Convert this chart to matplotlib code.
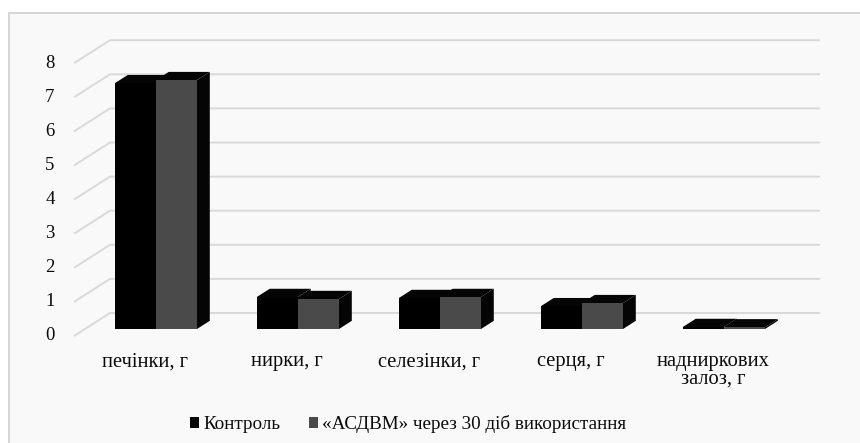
import matplotlib
matplotlib.use("Agg")
import matplotlib.pyplot as plt
from matplotlib.patches import Polygon, Rectangle, Patch

# ── дані ──────────────────────────────────────────────────────────────
categories = ["печінки, г", "нирки, г", "селезінки, г", "серця, г", "надниркових\nзалоз, г"]
control = [7.21, 0.94, 0.91, 0.67, 0.06]
asdvm = [7.30, 0.88, 0.94, 0.76, 0.05]
series_names = ["Контроль", "«АСДВМ» через 30 діб використання"]
y_ticks = [0, 1, 2, 3, 4, 5, 6, 7, 8]

plt.rcParams["font.family"] = ["Liberation Serif", "DejaVu Serif"]

# ── геометрія псевдо-3D (одиниці: категорія по x, значення по y) ──────
W, H, DPI = 860, 443, 100
PX_X = 142.0      # пікселів на категорію
PX_Y = 34.1       # пікселів на одиницю значення
X0, Y0 = 74.0, 336.0   # передній нуль осі (пікселі від лівого верхнього кута)
DX = 36.0 / PX_X  # зсув у глибину по x на всю глибину
DY = 23.0 / PX_Y  # зсув у глибину по y
Z_FRONT, Z_BACK = 0.30, 0.66   # глибина стовпчиків
BAR_L, BAR_W = 0.211, 0.289    # позиція першого стовпчика в комірці та ширина

GRID = "#d9d9d9"
TEXT = "#0a0a0a"
FACE_COLORS = ["#000000", "#4a4a4a"]
SHADE = "#050505"


def proj(x, v, z):
    return (x + z * DX, v + z * DY)


fig = plt.figure(figsize=(W / DPI, H / DPI), dpi=DPI, facecolor="white")

# рамка області діаграми
fig.patches.append(Rectangle((8.5 / W, -0.1), 2.0, (H - 13) / H + 0.1,
                             transform=fig.transFigure, facecolor="#f9f9f9",
                             edgecolor="#cfcfcf", linewidth=1.2, zorder=-5))

ax = fig.add_axes([0, 0, 1, 1])
ax.set_xlim(-X0 / PX_X, (W - X0) / PX_X)
ax.set_ylim(-(H - Y0) / PX_Y, Y0 / PX_Y)
ax.axis("off")
ax.patch.set_alpha(0)

n_cat = len(categories)

# лінії сітки: бічна стінка (діагональ) + задня стінка
for v in y_ticks:
    pts = [proj(0, v, 0), proj(0, v, 1), proj(n_cat, v, 1)]
    ax.plot([p[0] for p in pts], [p[1] for p in pts], color=GRID, lw=1.4,
            solid_capstyle="butt", zorder=1)
    ax.text(-0.17, v, str(v), ha="center", va="center", fontsize=13.5,
            color=TEXT, zorder=3)


def draw_bar(x0, x1, v, color):
    z0, z1 = Z_FRONT, Z_BACK
    side = [proj(x1, 0, z0), proj(x1, 0, z1), proj(x1, v, z1), proj(x1, v, z0)]
    top = [proj(x0, v, z0), proj(x1, v, z0), proj(x1, v, z1), proj(x0, v, z1)]
    front = [proj(x0, 0, z0), proj(x1, 0, z0), proj(x1, v, z0), proj(x0, v, z0)]
    ax.add_patch(Polygon(side, closed=True, facecolor=SHADE, edgecolor="none", zorder=2))
    ax.add_patch(Polygon(top, closed=True, facecolor=SHADE, edgecolor="none", zorder=2))
    ax.add_patch(Polygon(front, closed=True, facecolor=color, edgecolor="none", zorder=2))


for i, cat in enumerate(categories):
    for s, vals in enumerate([control, asdvm]):
        x0 = i + BAR_L + s * BAR_W
        draw_bar(x0, x0 + BAR_W, vals[i], FACE_COLORS[s])
    ax.text(i + 0.5, -0.48, cat, ha="center", va="top", fontsize=14.8,
            linespacing=0.85, color=TEXT, zorder=3)

handles = [Patch(facecolor=c, edgecolor="none") for c in FACE_COLORS]
leg = ax.legend(handles, series_names, loc="center",
                bbox_to_anchor=(408 / W, 1 - 424 / H), bbox_transform=fig.transFigure,
                ncol=2, frameon=False, fontsize=13.8, handlelength=0.5,
                handleheight=0.5, handletextpad=0.2, columnspacing=1.5)
for t in leg.get_texts():
    t.set_color(TEXT)

fig.savefig("out.png", dpi=DPI, facecolor="white")
